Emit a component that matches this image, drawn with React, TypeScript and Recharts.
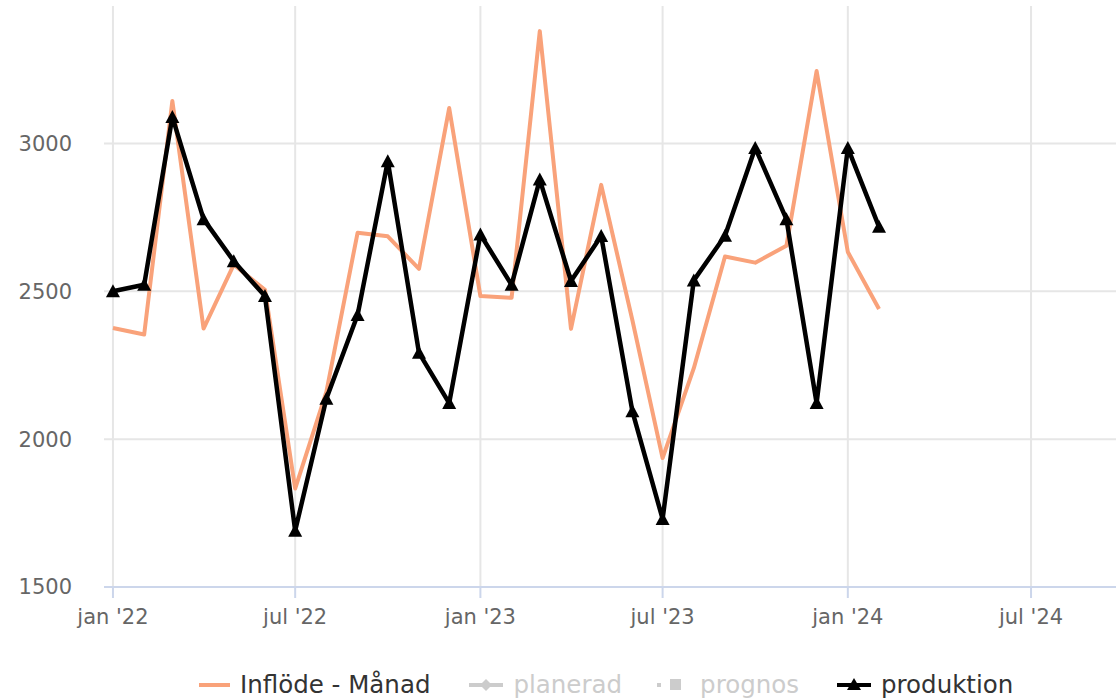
import { CartesianGrid, Legend, Line, LineChart, XAxis, YAxis } from 'recharts'

const months = [
  '2022-01', '2022-02', '2022-03', '2022-04', '2022-05', '2022-06',
  '2022-07', '2022-08', '2022-09', '2022-10', '2022-11', '2022-12',
  '2023-01', '2023-02', '2023-03', '2023-04', '2023-05', '2023-06',
  '2023-07', '2023-08', '2023-09', '2023-10', '2023-11', '2023-12',
  '2024-01', '2024-02',
]

const inflow = [
  2376, 2354, 3144, 2374, 2590, 2505,
  1833, 2160, 2698, 2686, 2576, 3120,
  2484, 2478, 3380, 2373, 2860, 2402,
  1936, 2240, 2618, 2597, 2654, 3245,
  2633, 2440,
]

const production = [
  2500, 2522, 3090, 2744, 2602, 2484,
  1690, 2137, 2420, 2940, 2292, 2122,
  2692, 2522, 2878, 2535, 2687, 2094,
  1730, 2537, 2688, 2985, 2744, 2122,
  2985, 2718,
]

const xTickMonths = ['2022-01', '2022-07', '2023-01', '2023-07', '2024-01', '2024-07']
const xTickLabels = ["jan '22", "jul '22", "jan '23", "jul '23", "jan '24", "jul '24"]
const yTicks = [1500, 2000, 2500, 3000]

const legendNames = ['Inflöde - Månad', 'planerad', 'prognos', 'produktion']
const legendHidden = [false, true, true, false]

const DAY = 86400000
const toTime = (m: string) => {
  const [y, mo] = m.split('-').map(Number)
  return Date.UTC(y, mo - 1, 1)
}

const data = months.map((m, i) => ({
  t: toTime(m),
  inflow: inflow[i],
  production: production[i],
}))

const xTicks = xTickMonths.map(toTime)
const xDomain = [xTicks[0] - 8.9 * DAY, xTicks[xTicks.length - 1] + 84.4 * DAY]

const ORANGE = '#f9a27a'
const FONT = '"DejaVu Sans", sans-serif'

function Triangle(props: any) {
  const { cx, cy } = props
  if (cx == null || cy == null) return null
  return <path d={`M${cx},${cy - 7} L${cx + 7},${cy + 6} L${cx - 7},${cy + 6} Z`} fill="#000" />
}

function LegendSymbol({ i }: { i: number }) {
  if (i === 0) {
    return (
      <svg width={31} height={20}>
        <line x1={0} y1={10} x2={31} y2={10} stroke={ORANGE} strokeWidth={4} />
      </svg>
    )
  }
  if (i === 1) {
    return (
      <svg width={34} height={20}>
        <line x1={0} y1={10} x2={34} y2={10} stroke="#ccc" strokeWidth={4} />
        <path d="M17,4 L23,10 L17,16 L11,10 Z" fill="#ccc" />
      </svg>
    )
  }
  if (i === 2) {
    return (
      <svg width={26} height={20}>
        <rect x={0} y={8} width={4} height={4} fill="#ccc" />
        <rect x={13} y={4} width={11} height={11} fill="#ccc" />
      </svg>
    )
  }
  return (
    <svg width={34} height={20}>
      <line x1={0} y1={10} x2={34} y2={10} stroke="#000" strokeWidth={4} />
      <path d="M17,3 L24,15 L10,15 Z" fill="#000" />
    </svg>
  )
}

function ChartLegend() {
  const gaps = [0, 39, 35, 38]
  const textGaps = [10, 10, 17, 10]
  return (
    <div
      style={{
        display: 'flex',
        alignItems: 'center',
        paddingLeft: 199,
        paddingTop: 20,
        fontFamily: FONT,
        fontSize: 24.5,
        whiteSpace: 'nowrap',
      }}
    >
      {legendNames.map((name, i) => (
        <div key={name} style={{ display: 'flex', alignItems: 'center', marginLeft: gaps[i] }}>
          <LegendSymbol i={i} />
          <span style={{ marginLeft: textGaps[i], color: legendHidden[i] ? '#ccc' : '#333' }}>{name}</span>
        </div>
      ))}
    </div>
  )
}

export default function App() {
  return (
    <div style={{ position: 'absolute', left: 0, top: 0, width: 1116, height: 700, background: '#fff' }}>
      <LineChart width={1116} height={700} data={data} margin={{ top: 6, right: 0, left: 0, bottom: 0 }}>
        <CartesianGrid stroke="#e6e6e6" strokeWidth={2} verticalValues={xTicks} horizontalValues={yTicks} />
        <XAxis
          dataKey="t"
          type="number"
          domain={xDomain}
          ticks={xTicks}
          allowDataOverflow
          tickFormatter={(v: number) => xTickLabels[xTicks.indexOf(v)] ?? ''}
          stroke="#ccd6eb"
          strokeWidth={2}
          tickSize={11}
          tickMargin={11}
          height={63}
          tick={{ fill: '#666', fontSize: 21, fontFamily: FONT }}
        />
        <YAxis
          type="number"
          domain={[1500, 3465]}
          ticks={yTicks}
          allowDataOverflow
          axisLine={false}
          tickLine={false}
          tickSize={0}
          tickMargin={32}
          width={104}
          tick={{ fill: '#666', fontSize: 21, fontFamily: FONT }}
        />
        <Legend verticalAlign="bottom" height={50} content={() => <ChartLegend />} />
        <Line
          dataKey="inflow"
          name="Inflöde - Månad"
          stroke={ORANGE}
          strokeWidth={4}
          dot={false}
          activeDot={false}
          strokeLinejoin="round"
          isAnimationActive={false}
        />
        <Line
          dataKey="production"
          name="produktion"
          stroke="#000"
          strokeWidth={4.5}
          dot={<Triangle />}
          activeDot={false}
          strokeLinejoin="round"
          isAnimationActive={false}
        />
      </LineChart>
    </div>
  )
}
